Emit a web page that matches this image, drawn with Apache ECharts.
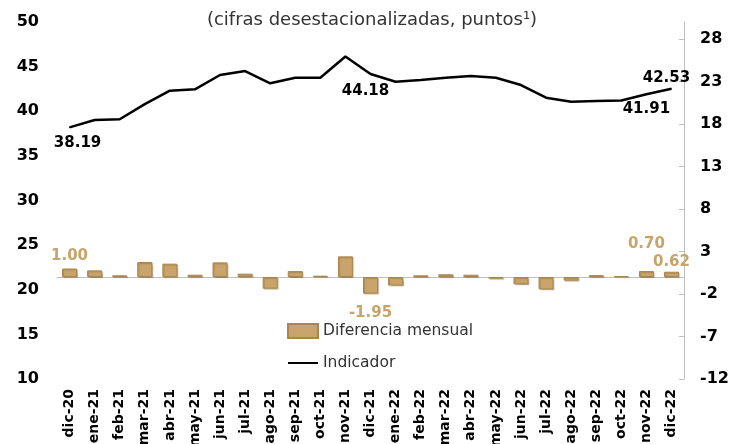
<!DOCTYPE html>
<html>
<head>
<meta charset="UTF-8">
<script src="https://cdn.jsdelivr.net/npm/echarts@6/dist/echarts.min.js"></script>
<title>Indicador</title>
<style>
body {
	margin: 0;
	padding: 0;
	background: #ffffff;
}

#main {
	width: 744px;
	height: 444px;
}
</style>
</head>
<body>
	<div id="main"></div>
	<script>
		// meses
		var meses = [ 'dic-20', 'ene-21', 'feb-21', 'mar-21', 'abr-21', 'may-21',
				'jun-21', 'jul-21', 'ago-21', 'sep-21', 'oct-21', 'nov-21',
				'dic-21', 'ene-22', 'feb-22', 'mar-22', 'abr-22', 'may-22',
				'jun-22', 'jul-22', 'ago-22', 'sep-22', 'oct-22', 'nov-22',
				'dic-22' ];
		// indicador (eje izquierdo)
		var indicador = [ 38.19, 39.02, 39.10, 40.80, 42.30, 42.46, 44.06, 44.50,
				43.13, 43.76, 43.76, 46.13, 44.18, 43.30, 43.50, 43.76, 43.95,
				43.76, 42.94, 41.52, 41.07, 41.15, 41.21, 41.91, 42.53 ];
		// diferencia mensual (eje derecho)
		var diferencia = [ 1.00, 0.78, 0.20, 1.76, 1.57, 0.27, 1.72, 0.39, -1.37,
				0.70, 0.15, 2.43, -1.95, -1.00, 0.20, 0.32, 0.27, -0.20, -0.85,
				-1.45, -0.43, 0.22, 0.10, 0.70, 0.62 ];
		// etiquetas del eje derecho
		var ticksDerecha = [ -12, -7, -2, 3, 8, 13, 18, 23, 28 ];
		// puntos con etiqueta
		var etiquetasIndicador = [ 0, 12, 23, 24 ];
		var etiquetasDiferencia = [ 0, 12, 23, 24 ];

		var fuente = 'DejaVu Sans';
		var oro = '#C8A46A';

		// posiciones de las etiquetas, como en el original
		var posIndicador = {
			0 : { position : 'bottom', offset : [ 8, 3 ] },
			12 : { position : 'bottom', offset : [ -5, 4 ] },
			23 : { position : 'bottom', offset : [ 0, 2 ] },
			24 : { position : 'top', offset : [ -5, 2 ] }
		};
		var posDiferencia = {
			0 : { position : 'top', offset : [ 0, 0 ] },
			12 : { position : 'bottom', offset : [ 0, 7 ] },
			23 : { position : 'top', offset : [ 0, -14 ] },
			24 : { position : 'top', offset : [ 0, 3 ] }
		};

		var lineData = indicador.map(function(v, i) {
			var item = { value : v };
			if (etiquetasIndicador.indexOf(i) >= 0) {
				item.symbol = 'circle';
				item.symbolSize = 1;
				item.label = {
					show : true,
					position : posIndicador[i].position,
					offset : posIndicador[i].offset,
					formatter : function(p) {
						return p.value.toFixed(2);
					}
				};
			}
			return item;
		});

		var barData = diferencia.map(function(v, i) {
			var item = { value : v };
			if (etiquetasDiferencia.indexOf(i) >= 0) {
				item.label = {
					show : true,
					position : posDiferencia[i].position,
					offset : posDiferencia[i].offset,
					formatter : function(p) {
						return p.value.toFixed(2);
					}
				};
			}
			return item;
		});

		var option = {
			animation : false,
			title : {
				text : '(cifras desestacionalizadas, puntos¹)',
				left : 'center',
				top : 6,
				textStyle : {
					fontFamily : fuente,
					fontWeight : 'normal',
					fontSize : 18,
					color : '#333333'
				}
			},
			legend : {
				orient : 'vertical',
				left : 287,
				top : 323,
				padding : 0,
				itemWidth : 30,
				itemHeight : 14,
				itemGap : 16,
				textStyle : {
					fontFamily : fuente,
					fontSize : 15.5,
					color : '#333333'
				},
				data : [ {
					name : 'Diferencia mensual',
					icon : 'rect'
				}, {
					name : 'Indicador',
					itemStyle : {
						opacity : 0
					}
				} ]
			},
			grid : {
				left : 57,
				right : 60,
				top : 22,
				bottom : 65,
				outerBoundsMode : 'none'
			},
			xAxis : {
				type : 'category',
				data : meses,
				axisLine : {
					lineStyle : {
						color : '#BFBFBF'
					}
				},
				axisTick : {
					length : 5,
					lineStyle : {
						color : '#BFBFBF'
					}
				},
				axisLabel : {
					rotate : 90,
					margin : 10,
					fontFamily : fuente,
					fontWeight : 'bold',
					fontSize : 14,
					color : '#000000'
				}
			},
			yAxis : [ {
				type : 'value',
				min : 10,
				max : 50,
				interval : 5,
				axisLine : {
					show : false
				},
				axisTick : {
					show : false
				},
				splitLine : {
					show : false
				},
				axisLabel : {
					margin : 18,
					fontFamily : fuente,
					fontWeight : 'bold',
					fontSize : 16,
					color : '#000000'
				}
			}, {
				type : 'value',
				min : -12,
				max : 30,
				position : 'right',
				axisLine : {
					show : true,
					lineStyle : {
						color : '#BFBFBF'
					}
				},
				axisTick : {
					show : true,
					inside : true,
					length : 5,
					customValues : ticksDerecha,
					lineStyle : {
						color : '#BFBFBF'
					}
				},
				splitLine : {
					show : false
				},
				axisLabel : {
					margin : 16,
					customValues : ticksDerecha,
					fontFamily : fuente,
					fontWeight : 'bold',
					fontSize : 16,
					color : '#000000'
				}
			} ],
			series : [ {
				name : 'Diferencia mensual',
				type : 'bar',
				yAxisIndex : 1,
				barWidth : 15,
				data : barData,
				itemStyle : {
					color : oro,
					borderColor : '#A8864F',
					borderWidth : 1,
					shadowColor : 'rgba(120, 90, 40, 0.35)',
					shadowOffsetX : 1,
					shadowOffsetY : 1,
					shadowBlur : 1
				},
				label : {
					fontFamily : fuente,
					fontWeight : 'bold',
					fontSize : 15,
					color : oro
				}
			}, {
				name : 'Indicador',
				type : 'line',
				yAxisIndex : 0,
				symbol : 'none',
				data : lineData,
				lineStyle : {
					color : '#000000',
					width : 2.5
				},
				itemStyle : {
					color : '#000000'
				},
				label : {
					fontFamily : fuente,
					fontWeight : 'bold',
					fontSize : 15,
					color : '#000000'
				}
			} ]
		};

		var mychart = echarts.init(document.getElementById('main'));
		mychart.setOption(option);
	</script>
</body>
</html>
